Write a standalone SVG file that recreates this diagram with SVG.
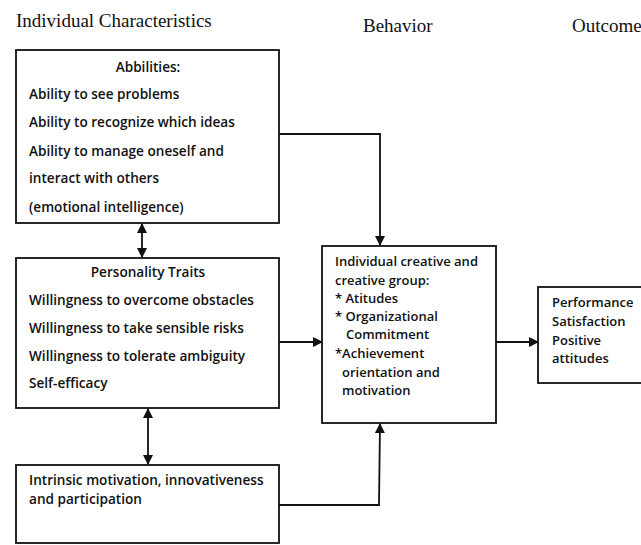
<svg xmlns="http://www.w3.org/2000/svg" width="641" height="545" viewBox="0 0 641 545">
<defs>
<style>
.hdr{font-family:"Liberation Serif","Times New Roman",serif;font-size:19px;fill:#111}
.t{font-family:"Open Sans",Lato,sans-serif;font-size:13px;font-weight:600;fill:#111}
.tl{font-size:13.6px}
.box{fill:#fff;stroke:#111;stroke-width:1.8}
.ln{fill:none;stroke:#111;stroke-width:1.8}
</style>
<marker id="ah" viewBox="0 0 10 10" refX="9" refY="5" markerWidth="10" markerHeight="10" markerUnits="userSpaceOnUse" orient="auto-start-reverse">
<path d="M0,0 L10,5 L0,10 Z" fill="#111"/>
</marker>
</defs>
<rect width="641" height="545" fill="#fff"/>
<g id="headers">
<text class="hdr" x="16" y="27">Individual Characteristics</text>
<text class="hdr" x="363" y="32">Behavior</text>
<text class="hdr" x="572" y="32">Outcome</text>
</g>
<g id="connectors">
<line class="ln" x1="142" y1="224" x2="142" y2="257" marker-start="url(#ah)" marker-end="url(#ah)"/>
<line class="ln" x1="148" y1="409" x2="148" y2="464" marker-start="url(#ah)" marker-end="url(#ah)"/>
<polyline class="ln" points="279,134 380,134 380,245" marker-end="url(#ah)"/>
<line class="ln" x1="279" y1="342" x2="322" y2="342" marker-end="url(#ah)"/>
<polyline class="ln" points="279,505 379,505 380,424" marker-end="url(#ah)"/>
<line class="ln" x1="496" y1="342" x2="538" y2="342" marker-end="url(#ah)"/>
</g>
<g id="abilities" class="t tl">
<rect class="box" x="16" y="50" width="263" height="173"/>
<text x="148" y="72" text-anchor="middle">Abbilities:</text>
<text x="29" y="99">Ability to see problems</text>
<text x="29" y="127">Ability to recognize which ideas</text>
<text x="29" y="156">Ability to manage oneself and</text>
<text x="29" y="183">interact with others</text>
<text x="29" y="212">(emotional intelligence)</text>
</g>
<g id="personality" class="t tl">
<rect class="box" x="16" y="258" width="263" height="150"/>
<text x="148" y="277" text-anchor="middle">Personality Traits</text>
<text x="29" y="305">Willingness to overcome obstacles</text>
<text x="29" y="333">Willingness to take sensible risks</text>
<text x="29" y="361">Willingness to tolerate ambiguity</text>
<text x="29" y="388">Self-efficacy</text>
</g>
<g id="motivation" class="t tl">
<rect class="box" x="16" y="465" width="263" height="78"/>
<text x="29" y="485">Intrinsic motivation, innovativeness</text>
<text x="29" y="504">and participation</text>
</g>
<g id="behavior" class="t">
<rect class="box" x="322" y="246" width="174" height="177"/>
<text x="335" y="266">Individual creative and</text>
<text x="335" y="285">creative group:</text>
<text x="335" y="303">* Atitudes</text>
<text x="335" y="321">* Organizational</text>
<text x="346" y="339">Commitment</text>
<text x="335" y="358">*Achievement</text>
<text x="342" y="377">orientation and</text>
<text x="342" y="395">motivation</text>
</g>
<g id="outcome" class="t">
<rect class="box" x="538" y="287" width="110" height="96"/>
<text x="552" y="307">Performance</text>
<text x="552" y="326">Satisfaction</text>
<text x="552" y="345">Positive</text>
<text x="552" y="363">attitudes</text>
</g>
</svg>
